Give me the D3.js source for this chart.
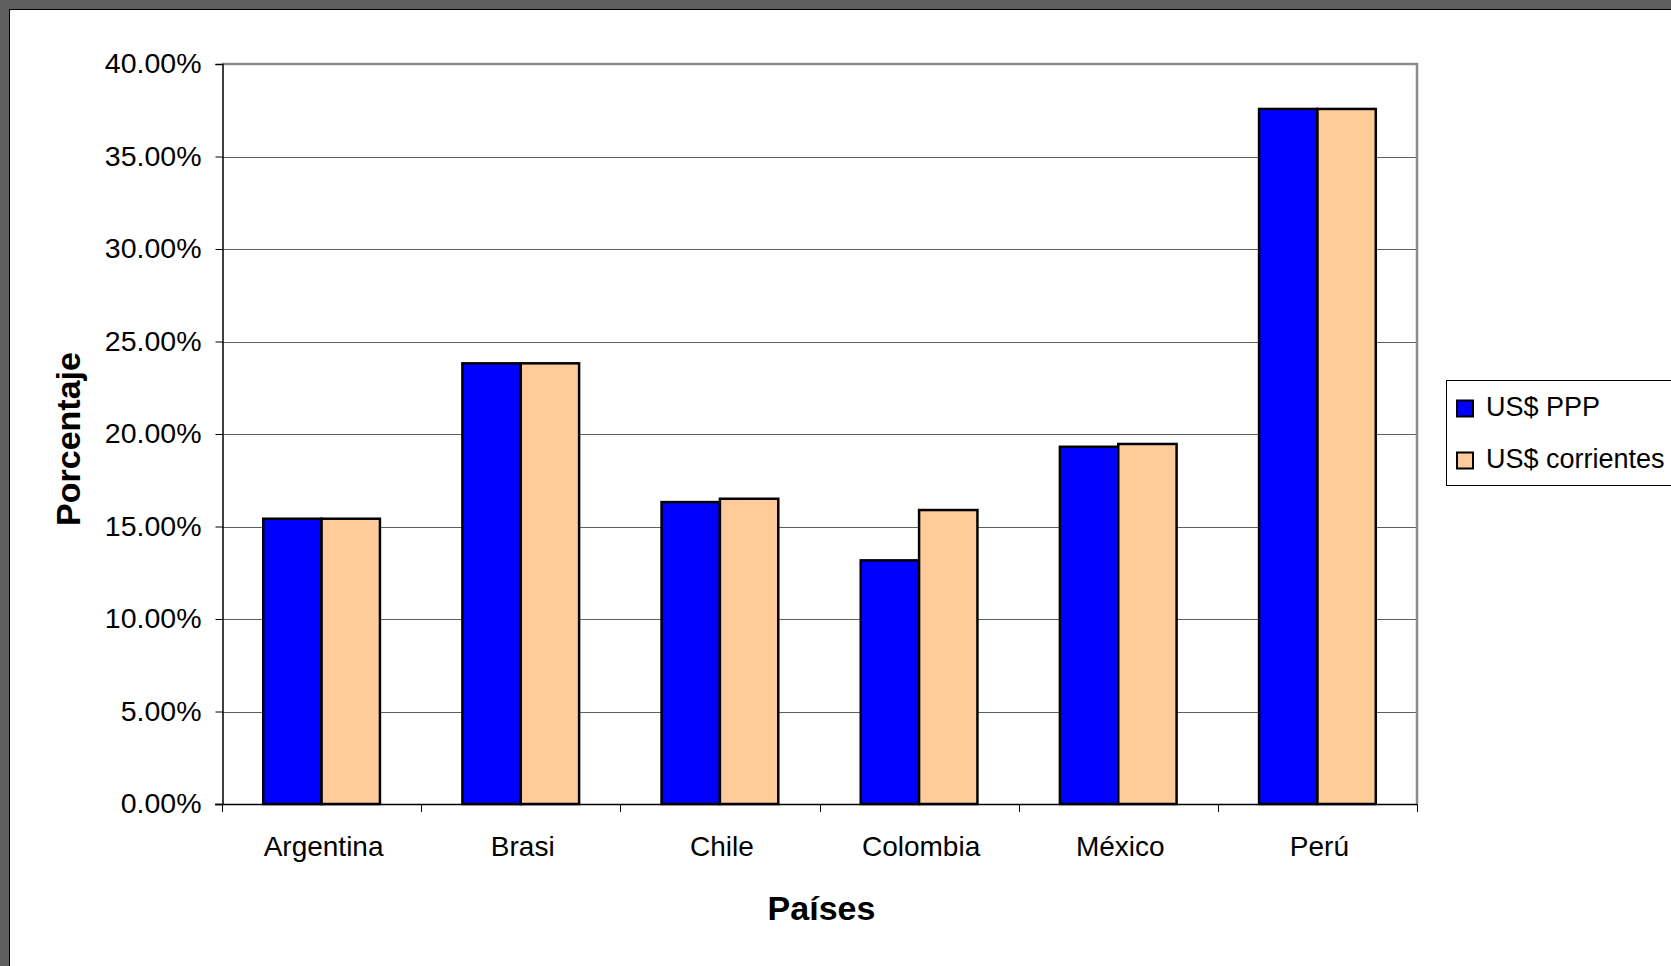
<!DOCTYPE html>
<html>
<head>
<meta charset="utf-8">
<script src="https://cdn.jsdelivr.net/npm/d3@7"></script>
<style>
  html, body { margin: 0; padding: 0; background: #fff; overflow: hidden; }
  svg { display: block; font-family: "Liberation Sans", Arial, sans-serif; }
</style>
</head>
<body>
<svg id="chart" width="1671" height="966"></svg>
<script>
const categories = ["Argentina", "Brasi", "Chile", "Colombia", "México", "Perú"];
const seriesNames = ["US$ PPP", "US$ corrientes"];
const usPPP = [0.1542, 0.2382, 0.1632, 0.1317, 0.1931, 0.3757];
const usCorrientes = [0.1542, 0.2382, 0.1650, 0.1589, 0.1946, 0.3757];
const yTicks = [0, 0.05, 0.10, 0.15, 0.20, 0.25, 0.30, 0.35, 0.40];
const seriesColors = ["#0000FF", "#FFCC99"];
const xTitle = "Países";
const yTitle = "Porcentaje";

const svg = d3.select("#chart");
const W = 1671, H = 966;

// outer frame
svg.append("rect").attr("x", 0).attr("y", 0).attr("width", W).attr("height", H).attr("fill", "#5f5f5f");
svg.append("rect").attr("x", 9).attr("y", 9).attr("width", W).attr("height", H).attr("fill", "#000");
svg.append("rect").attr("x", 10).attr("y", 10).attr("width", W).attr("height", H).attr("fill", "#fff");

const plot = { left: 222, right: 1417, top: 64, bottom: 804 };

const x = d3.scaleBand().domain(categories).range([plot.left, plot.right]).paddingInner(0).paddingOuter(0);
const bw = x.bandwidth();
const xs = d3.scaleBand().domain(seriesNames).range([bw * 0.207, bw * 0.793]).padding(0);
const y = d3.scaleLinear().domain([0, 0.4]).range([plot.bottom, plot.top]);

// gridlines
svg.append("g").selectAll("line").data(yTicks.filter(d => d > 0 && d < 0.4)).join("line")
  .attr("x1", plot.left).attr("x2", plot.right)
  .attr("y1", d => Math.round(y(d)) + 0.5).attr("y2", d => Math.round(y(d)) + 0.5)
  .attr("stroke", "#606060").attr("stroke-width", 1);

// plot border (top and right)
svg.append("path")
  .attr("d", `M${plot.left},${plot.top} H${plot.right} V${plot.bottom}`)
  .attr("fill", "none").attr("stroke", "#8c8c8c").attr("stroke-width", 2.5);

// bars
const data = categories.map((c, i) => ({ c, vals: [usPPP[i], usCorrientes[i]] }));
const groups = svg.append("g").selectAll("g").data(data).join("g")
  .attr("transform", d => `translate(${x(d.c)},0)`);
groups.selectAll("rect").data(d => d.vals.map((v, j) => ({ s: seriesNames[j], v, j }))).join("rect")
  .attr("x", d => xs(d.s))
  .attr("width", xs.bandwidth())
  .attr("y", d => y(d.v))
  .attr("height", d => y(0) - y(d.v))
  .attr("fill", d => seriesColors[d.j])
  .attr("stroke", "#000").attr("stroke-width", 2.5);

// y axis
const yAxis = d3.axisLeft(y).tickValues(yTicks).tickFormat(d3.format(".2%")).tickSize(7).tickPadding(14);
const gy = svg.append("g").attr("transform", `translate(${plot.left + 0.5},0)`).call(yAxis);
gy.select(".domain").attr("stroke", "#000").attr("stroke-width", 1.5);
gy.selectAll(".tick line").attr("stroke", "#000");
gy.selectAll(".tick text").attr("font-size", 28.5).attr("fill", "#000")
  .attr("font-family", "'Liberation Sans', Arial, sans-serif").attr("dy", "0.3em");

// x axis
const xAxis = d3.axisBottom(x).tickSize(0).tickPadding(32);
const gx = svg.append("g").attr("transform", `translate(0,${plot.bottom})`).call(xAxis);
gx.select(".domain").remove();
gx.selectAll(".tick text").attr("font-size", 28).attr("fill", "#000")
  .attr("font-family", "'Liberation Sans', Arial, sans-serif").attr("dx", 2);
svg.append("line").attr("x1", plot.left - 7).attr("x2", plot.right)
  .attr("y1", plot.bottom + 0.5).attr("y2", plot.bottom + 0.5).attr("stroke", "#000").attr("stroke-width", 1.5);
const bounds = categories.map(c => x(c)).concat([x(categories[categories.length - 1]) + bw]);
svg.append("g").selectAll("line").data(bounds).join("line")
  .attr("x1", d => Math.round(d) + 0.5).attr("x2", d => Math.round(d) + 0.5)
  .attr("y1", plot.bottom).attr("y2", plot.bottom + 8)
  .attr("stroke", "#000").attr("stroke-width", 1);

// axis titles
svg.append("text").attr("x", (plot.left + plot.right) / 2 + 2).attr("y", 920)
  .attr("text-anchor", "middle").attr("font-size", 34).attr("font-weight", "bold").text(xTitle);
svg.append("text").attr("transform", `translate(80,${439}) rotate(-90)`)
  .attr("text-anchor", "middle").attr("font-size", 34).attr("font-weight", "bold").text(yTitle);

// legend
const lg = svg.append("g");
lg.append("rect").attr("x", 1446.5).attr("y", 380.5).attr("width", 300).attr("height", 105)
  .attr("fill", "#fff").attr("stroke", "#000").attr("stroke-width", 1);
const items = lg.selectAll("g.item").data(seriesNames).join("g").attr("class", "item")
  .attr("transform", (d, i) => `translate(0,${i * 52})`);
items.append("rect").attr("x", 1457).attr("y", 400.5).attr("width", 16).attr("height", 16)
  .attr("fill", (d, i) => seriesColors[i]).attr("stroke", "#000").attr("stroke-width", 2);
items.append("text").attr("x", 1486).attr("y", 415.5).attr("font-size", 27).attr("fill", "#000").text(d => d);
</script>
</body>
</html>
